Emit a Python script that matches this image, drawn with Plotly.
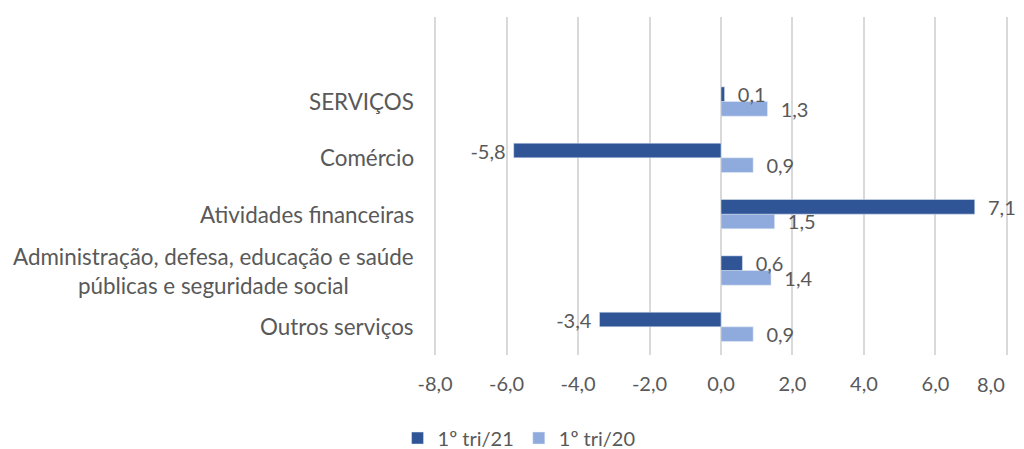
import plotly.graph_objects as go

categories = ["SERVIÇOS", "Comércio", "Atividades financeiras",
              "Administração, defesa, educação e saúde<br>públicas e seguridade social",
              "Outros serviços"]
tri21 = [0.1, -5.8, 7.1, 0.6, -3.4]
tri20 = [1.3, 0.9, 1.5, 1.4, 0.9]
series_names = ["1º tri/21", "1º tri/20"]
x_ticks = [-8, -6, -4, -2, 0, 2, 4, 6, 8]
x_tick_labels = ["-8,0", "-6,0", "-4,0", "-2,0", "0,0", "2,0", "4,0", "6,0", "8,0"]

DARK = "#2F5597"
LIGHT = "#8FAADC"
GRAY = "#595959"
FONT = "Lato, Carlito, Calibri, sans-serif"

def fmt(v):
    return f"{v:.1f}".replace(".", ",")

def label(v):
    # Excel-like gap between bar end and its data label
    return "\u00a0\u00a0" + fmt(v) if v >= 0 else fmt(v) + "\u00a0"

# blank slot at the top (Excel-like empty band)
order_bottom_to_top = list(reversed(categories)) + [" "]

fig = go.Figure()
fig.add_trace(go.Bar(
    y=categories, x=tri20, orientation="h", name=series_names[1],
    marker=dict(color=LIGHT), text=[label(v) for v in tri20],
    textposition="outside", constraintext="none",
    textfont=dict(color=GRAY, size=20, family=FONT),
    cliponaxis=False, legendrank=2,
))
fig.add_trace(go.Bar(
    y=categories, x=tri21, orientation="h", name=series_names[0],
    marker=dict(color=DARK), text=[label(v) for v in tri21],
    textposition="outside", constraintext="none",
    textfont=dict(color=GRAY, size=20, family=FONT),
    cliponaxis=False, legendrank=1,
))

annotations = []
for c in categories:
    annotations.append(dict(
        x=0, xref="paper", xanchor="right", xshift=-18,
        y=c, yref="y", yanchor="middle",
        text=c, showarrow=False, align="center",
        font=dict(color=GRAY, size=22.4, family=FONT),
    ))
# last x tick label kept inside the chart (right-aligned to its gridline, as in Excel)
annotations.append(dict(
    x=x_ticks[-1], xref="x", xanchor="right", y=0, yref="paper", yanchor="top",
    yshift=-15, text=x_tick_labels[-1], showarrow=False,
    font=dict(color=GRAY, size=20, family=FONT),
))

fig.update_layout(
    width=1016, height=441,
    margin=dict(l=426, r=16, t=9, b=94, autoexpand=False),
    paper_bgcolor="white", plot_bgcolor="white",
    barmode="group", bargap=0.48, bargroupgap=0,
    font=dict(family=FONT, color=GRAY, size=20),
    showlegend=True,
    legend=dict(orientation="h", x=0.503, xref="container", xanchor="center",
                yref="paper", y=-0.188, yanchor="top",
                font=dict(size=20, color=GRAY, family=FONT), itemwidth=30,
                tracegroupgap=0),
    annotations=annotations,
)
fig.update_xaxes(
    range=[-8.03, 8.03], tickvals=x_ticks,
    ticktext=x_tick_labels[:-1] + [""],
    showgrid=True, gridcolor="#D9D9D9", gridwidth=2,
    zeroline=True, zerolinecolor="#D9D9D9", zerolinewidth=2,
    showline=False, ticks="", ticklabelstandoff=15, automargin=False,
    tickfont=dict(size=20, color=GRAY, family=FONT),
)
fig.update_yaxes(
    type="category", categoryorder="array", categoryarray=order_bottom_to_top,
    range=[-0.5, 5.5], showticklabels=False, showgrid=False, zeroline=False,
    showline=False, ticks="", automargin=False,
)

fig.write_html("out.html")
